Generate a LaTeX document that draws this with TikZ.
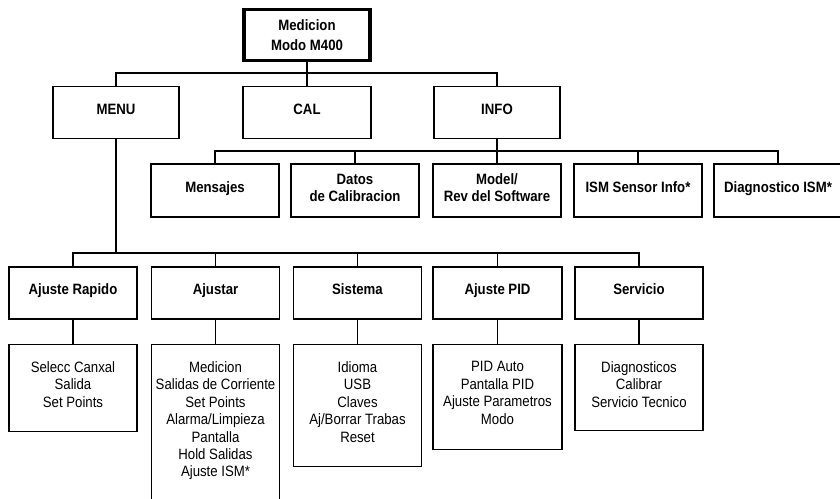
\documentclass[tikz,border=0pt]{standalone}
\usepackage{fontspec}
\setmainfont{Liberation Sans}[FakeStretch=0.88]
\begin{document}
\begin{tikzpicture}[x=1pt,y=-1pt,
  line width=1.2pt,
  box/.style={draw, line width=1.2pt, minimum width=128pt, inner sep=0pt, align=center},
  hd/.style={box, minimum height=52pt, text depth=7pt, font=\bfseries\fontsize{15}{18}\selectfont},
  info2/.style={box, minimum height=53pt, text depth=6pt, font=\bfseries\fontsize{15}{17}\selectfont},
  topbox/.style={box, line width=3.5pt, minimum width=126pt, minimum height=51pt, font=\bfseries\fontsize{15}{20}\selectfont},
  lowbox/.style={box, anchor=north},
  lowtxt/.style={anchor=north, align=center, inner sep=0pt, font=\fontsize{15}{17.4}\selectfont}
]
\clip (0,0) rectangle (840,498);
% top
\node[topbox] (top) at (307,35) {Medicion\\Modo M400};
% level 1
\node[hd, minimum width=126pt] (menu) at (116,112.5) {MENU};
\node[hd] (cal) at (307,112.5) {CAL};
\node[hd, minimum width=126pt] (info) at (497,112.5) {INFO};
\coordinate (b1) at (307,73);
\draw (top.south) -- (b1);
\draw (menu.north) |- (b1) -| (info.north);
\draw (b1) -- (cal.north);
% level 2 (INFO)
\node[info2] (mens) at (215,190.5) {Mensajes};
\node[info2] (datos) at (355,190.5) {Datos\\de Calibracion};
\node[info2] (model) at (497,190.5) {Model/\\Rev del Software};
\node[info2] (ismsi) at (638,190.5) {ISM Sensor Info*};
\node[info2] (diag) at (778,190.5) {Diagnostico ISM*};
\coordinate (b2) at (497,151);
\draw (info.south) -- (b2);
\draw (mens.north) |- (b2) -| (diag.north);
\draw (datos.north) -- (datos.north |- b2);
\draw (model.north) -- (b2);
\draw (ismsi.north) -- (ismsi.north |- b2);
% level 2 (MENU)
\node[hd] (rap) at (73,293) {Ajuste Rapido};
\node[hd] (ajus) at (215.5,293) {Ajustar};
\node[hd] (sist) at (357.5,293) {Sistema};
\node[hd, minimum width=129pt] (pid) at (497.5,293) {Ajuste PID};
\node[hd] (serv) at (639,293) {Servicio};
\coordinate (b3) at (116,253);
\draw (menu.south) -- (b3);
\draw (rap.north) |- (b3) -| (serv.north);
\draw (ajus.north) -- (ajus.north |- b3);
\draw (sist.north) -- (sist.north |- b3);
\draw (pid.north) -- (pid.north |- b3);
% level 3 boxes
\node[lowbox, minimum height=87pt] (rapL) at (73,344) {};
\node[lowbox, minimum height=190pt] (ajusL) at (215.5,344) {};
\node[lowbox, minimum height=122pt] (sistL) at (357.5,344) {};
\node[lowbox, minimum height=105pt, minimum width=129pt] (pidL) at (497.5,344) {};
\node[lowbox, minimum height=86pt] (servL) at (639,344) {};
\foreach \a in {rap,ajus,sist,pid,serv} {\draw (\a.south) -- (\a L.north);}
\node[lowtxt] (rapT) at ([yshift=-17pt]rapL.north) {Selecc Canxal\\Salida\\Set Points};
\node[lowtxt] (ajusT) at ([yshift=-17pt]ajusL.north) {Medicion\\Salidas de Corriente\\Set Points\\Alarma/Limpieza\\Pantalla\\Hold Salidas\\Ajuste ISM*};
\node[lowtxt] (sistT) at ([yshift=-17pt]sistL.north) {Idioma\\USB\\Claves\\Aj/Borrar Trabas\\Reset};
\node[lowtxt] (pidT) at ([yshift=-17pt]pidL.north) {PID Auto\\Pantalla PID\\Ajuste Parametros\\Modo};
\node[lowtxt] (servT) at ([yshift=-17pt]servL.north) {Diagnosticos\\Calibrar\\Servicio Tecnico};
\end{tikzpicture}
\end{document}
